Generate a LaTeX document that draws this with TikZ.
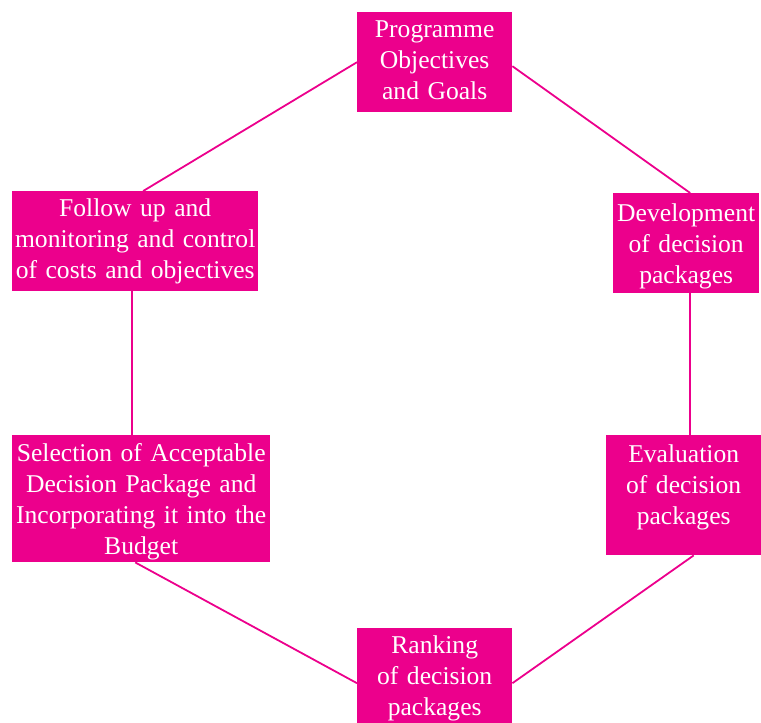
\documentclass[tikz,border=0pt]{standalone}
\usepackage{fontspec}
\setmainfont{Liberation Serif}
\usepackage{tikz}
\usepackage{xcolor}
\usetikzlibrary{calc}

\definecolor{zbbpink}{RGB}{236,0,140}

\begin{document}
\begin{tikzpicture}[x=1pt,y=-1pt,
  stage/.style={fill=zbbpink, text=white, anchor=north west, inner sep=0pt,
    align=center, font=\fontsize{25.6}{31}\selectfont},
  link/.style={draw=zbbpink, line width=1.8pt}]
\useasboundingbox (0,0) rectangle (761,723);

% the six stages, placed by their top left corners
\node[stage, text width=155pt, text height=25.5pt, text depth=74.5pt] (objectives) at (357,12) {Programme\\Objectives\\and Goals};
\node[stage, text width=146pt, text height=28.5pt, text depth=71.5pt] (develop) at (613,193) {Development\\of decision\\packages};
\node[stage, text width=155pt, text height=27pt, text depth=93pt] (evaluate) at (606,435) {Evaluation\\of decision\\packages};
\node[stage, text width=155pt, text height=25.5pt, text depth=84.5pt] (ranking) at (357,628) {Ranking\\of decision\\packages};
\node[stage, text width=258pt, text height=26pt, text depth=101pt] (selection) at (12,435) {Selection of Acceptable\\Decision Package and\\Incorporating it into the\\Budget};
\node[stage, text width=246pt, text height=25pt, text depth=75pt] (followup) at (12,191) {Follow up and\\monitoring and control\\of costs and objectives};

% the cycle
\draw[link] (objectives.west) -- ([xshift=8pt]followup.north);
\draw[link] ([yshift=-4pt]objectives.east) -- ([xshift=4pt]develop.north);
\draw[link] ([xshift=4pt]develop.south) -- ([xshift=4pt]develop.south |- evaluate.north);
\draw[link] ([xshift=10pt]evaluate.south) -- (ranking.east);
\draw[link] (ranking.west) -- ([xshift=-6pt]selection.south);
\draw[link] ([xshift=-9.5pt]selection.north) -- ([xshift=-9.5pt]selection.north |- followup.south);

\end{tikzpicture}
\end{document}
